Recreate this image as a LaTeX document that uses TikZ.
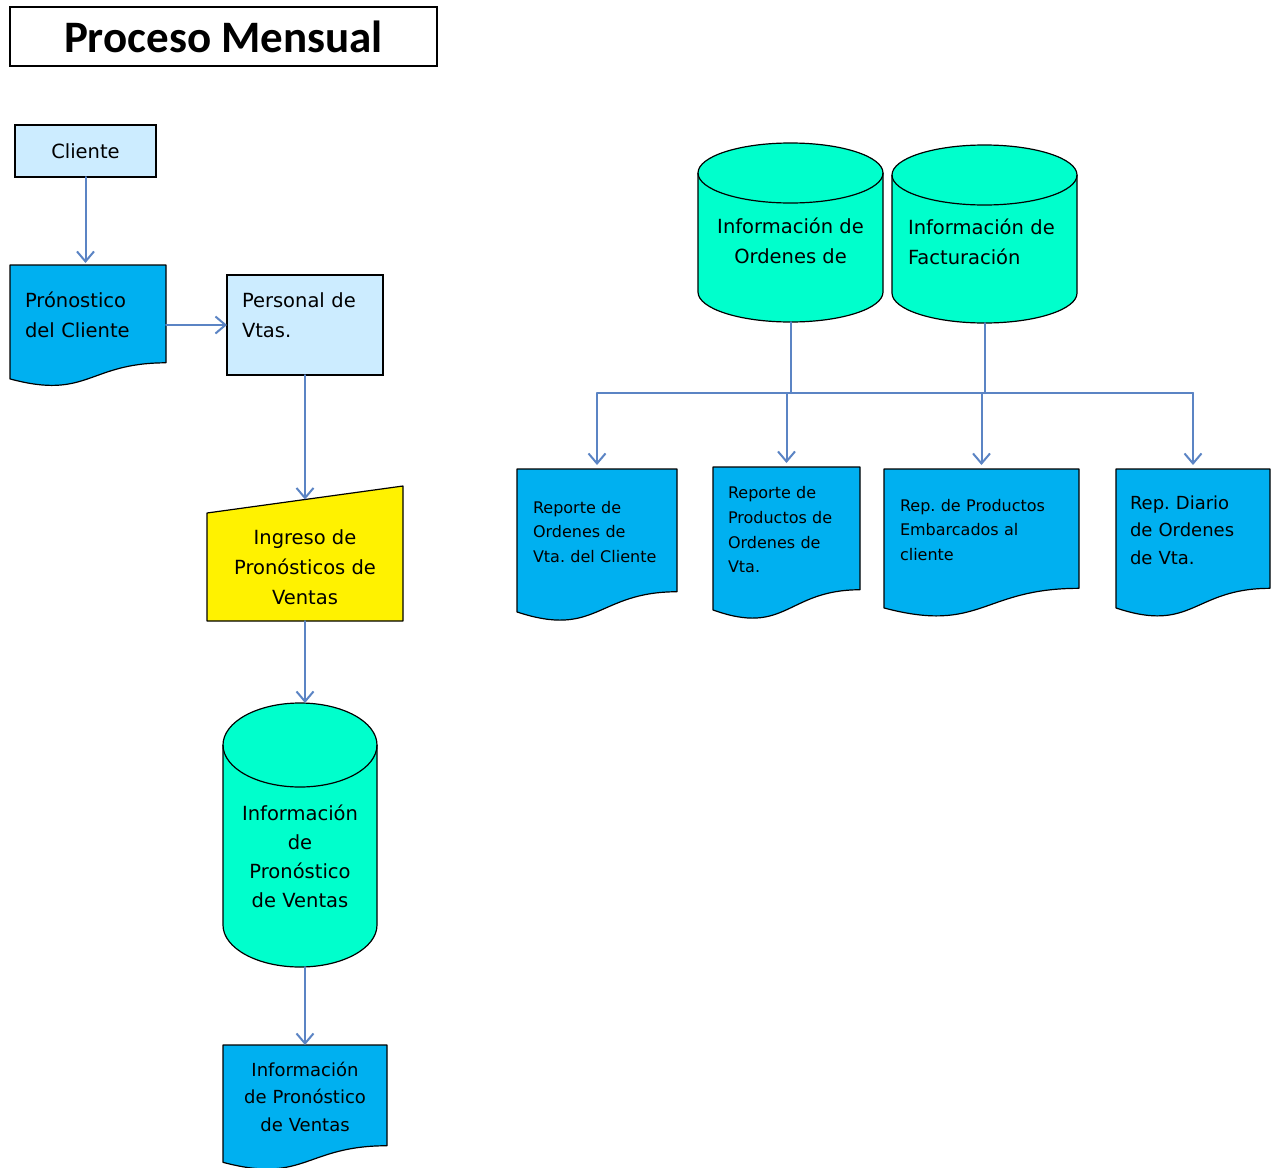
\documentclass[tikz,border=0pt]{standalone}
\usepackage{fontspec}
\setmainfont{DejaVu Sans}
\newfontfamily\titlefont{Carlito}
\usetikzlibrary{arrows.meta,backgrounds,calc}
\frenchspacing

\definecolor{boxblue}{HTML}{CCECFF}
\definecolor{docblue}{HTML}{00B0F0}
\definecolor{dbgreen}{HTML}{00FFCC}
\definecolor{flowblue}{HTML}{5B84C4}

\begin{document}
\begin{tikzpicture}[%
        x = 1pt, y = -1pt,
        > = {Straight Barb[length=10pt,width=17pt]},
        every node/.style = {outer sep=0pt},
        bodytext/.style = {font=\fontsize{19.5}{30}\selectfont},
        smalltext/.style = {font=\fontsize{16}{24.7}\selectfont},
        boxnode/.style = {draw, fill=boxblue, line width=1.2pt, anchor=north west, inner sep=0pt},
        docnode/.style = {anchor=north west, align=left, inner xsep=15pt, inner ysep=0pt},
        dbnode/.style = {anchor=north west, inner sep=0pt},
        shapeline/.style = {draw, line width=1.2pt, line join=round},
        flowline/.style = {flowblue, line width=2pt, line cap=round}
    ]

        \useasboundingbox (0,0) rectangle (1271,1167);

        % Title
        \node[draw, line width=1.4pt, anchor=north west, inner sep=0pt,
              minimum width=427pt, minimum height=59pt,
              font=\titlefont\bfseries\fontsize{45}{50}\selectfont]
            (title) at (10,7) {Proceso Mensual};

        % Left column: forecast entry
        \node[boxnode, bodytext, minimum width=141pt, minimum height=52pt]
            (cliente) at (15,125) {Cliente\\[-6pt]\mbox{}};
        \node[docnode, bodytext, text width=126pt, minimum height=100pt]
            (pron) at (10,265) {Prónostico\\del Cliente};
        \node[boxnode, bodytext, align=left, text width=126pt, inner xsep=15pt,
              minimum height=100pt]
            (pers) at (227,275) {Personal de\\Vtas.\\[-10pt]\mbox{}};
        \node[dbnode, bodytext, align=center, minimum width=196pt, minimum height=108pt]
            (ingreso) at (207,513) {Ingreso de\\Pronósticos de\\Ventas};
        \node[dbnode, font=\fontsize{19.5}{29}\selectfont, align=center,
              minimum width=154pt, minimum height=222pt]
            (cylP) at (223,745) {Información\\de\\Pronóstico\\de Ventas};
        \node[docnode, font=\fontsize{18}{27.5}\selectfont, align=center,
              text width=134pt, minimum height=103pt]
            (infoDoc) at (223,1045) {Información\\de Pronóstico\\de Ventas};

        % Right side: databases and reports
        \node[dbnode, bodytext, align=center, minimum width=185pt, minimum height=149pt]
            (cylO) at (698,173) {Información de\\Ordenes de\\[-16pt]\mbox{}};
        \node[dbnode, bodytext, align=left, text width=153pt, inner xsep=16pt,
              minimum height=148pt]
            (cylF) at (892,175) {Información de\\Facturación\\[-16pt]\mbox{}};

        \node[docnode, smalltext, text width=128pt, inner xsep=16pt, minimum height=125.5pt]
            (rep1) at (517,469) {Reporte de\\Ordenes de\\Vta. del Cliente};
        \node[docnode, smalltext, text width=117pt, minimum height=125.5pt]
            (rep2) at (713,467) {Reporte de\\Productos de\\Ordenes de\\Vta.};
        \node[docnode, smalltext, text width=163pt, inner xsep=16pt, minimum height=122pt]
            (rep3) at (884,469) {Rep. de Productos\\Embarcados al\\cliente};
        \node[docnode, font=\fontsize{18}{27.5}\selectfont, text width=126pt,
              inner xsep=14pt, minimum height=122pt]
            (rep4) at (1116,469) {Rep. Diario\\de Ordenes\\de Vta.};

        % Shapes behind the texts
        \begin{pgfonlayer}{background}
            \foreach \d in {pron,infoDoc,rep1,rep2,rep3,rep4}
                \draw[shapeline, fill=docblue]
                    let \p1 = (\d.north west), \p2 = (\d.south east),
                        \n1 = {(\y1-\y2)/0.82}, \n2 = {(\x1+\x2)/2} in
                    (\x1,\y1) -- (\x2,\y1) -- (\x2,\y1-0.802*\n1)
                    .. controls (\n2,\y1-0.802*\n1) and (\n2,\y1-1.1075*\n1) ..
                    (\x1,\y1-0.934*\n1) -- cycle;
            \foreach \c/\r in {cylP/42,cylO/30,cylF/30} {
                \draw[shapeline, fill=dbgreen]
                    let \p1 = (\c.north west), \p2 = (\c.south east),
                        \n1 = {(\x2-\x1)/2} in
                    (\x1,\y1) arc[start angle=180, end angle=0,
                                  x radius={\n1*1pt}, y radius={\r*1pt}]
                    -- (\x2,\y2+\r) arc[start angle=0, end angle=-180,
                                  x radius={\n1*1pt}, y radius={\r*1pt}] -- cycle;
                \draw[shapeline]
                    let \p1 = (\c.north west), \p2 = (\c.south east),
                        \n1 = {(\x2-\x1)/2} in
                    (\x1,\y1) arc[start angle=180, end angle=360,
                                  x radius={\n1*1pt}, y radius={\r*1pt}];
            }
            \draw[shapeline, fill=yellow]
                (ingreso.north west) -- ([yshift=27pt]ingreso.north east)
                -- (ingreso.south east) -- (ingreso.south west) -- cycle;
        \end{pgfonlayer}

        % Connectors on the left
        \coordinate (ingresoTop) at ([yshift=13.5pt]ingreso.north);
        \coordinate (cylPTop) at ([yshift=42pt]cylP.north);
        \draw[flowline, ->, shorten >=2pt] (cliente.south) -- (cliente.south |- pron.north);
        \draw[flowline, ->] (pron.east |- pers.west) -- (pers.west);
        \draw[flowline, ->] (pers.south) -- (ingresoTop);
        \draw[flowline, ->] (ingreso.south) -- (ingreso.south |- cylPTop);
        \draw[flowline, ->] (infoDoc.north |- cylP.south) -- (infoDoc.north);

        % Connectors on the right
        \coordinate (bus) at (0,393);
        \draw[flowline] (cylO.south) -- (cylO.south |- bus);
        \draw[flowline] (cylF.south) -- (cylF.south |- bus);
        \draw[flowline] (rep1.north |- bus) -- (rep4.north |- bus);
        \foreach \r in {rep1,rep2,rep3,rep4}
            \draw[flowline, ->, shorten >=4pt] (\r.north |- bus) -- (\r.north);
    \end{tikzpicture}
\end{document}
